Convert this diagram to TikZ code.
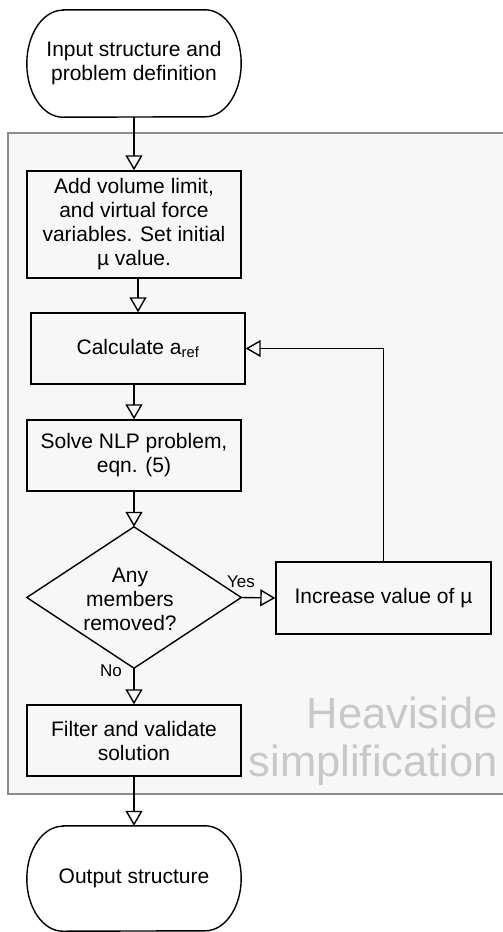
\documentclass[tikz,border=0pt]{standalone}
\usepackage{fontspec}
\setmainfont{Liberation Sans}
\usetikzlibrary{arrows.meta,calc}
\definecolor{regionfill}{HTML}{F7F7F7}
\definecolor{regionline}{HTML}{8C8C8C}
\definecolor{regiontext}{HTML}{C8C8C8}
\tikzset{
  txt/.style={font=\fontsize{21}{24}\selectfont, align=center, inner sep=0pt},
  procbox/.style={txt, draw, line width=1.4pt, minimum width=214pt, minimum height=71pt},
  ghost/.style={txt, draw=none, minimum width=214pt},
  flow/.style={line width=1.4pt, -{Triangle[open, width=17pt, length=15pt, line width=1.4pt]}},
  lbl/.style={font=\fontsize{17}{19}\selectfont, inner sep=0pt},
  outline/.style={line width=1.4pt},
}
\begin{document}
\begin{tikzpicture}[x=1pt,y=-1pt]
\useasboundingbox (0,0) rectangle (503,932);
% region
\draw[fill=regionfill, draw=regionline, line width=1.5pt] (8,133) rectangle (515,794);
\node[font=\fontsize{43.5}{48}\selectfont, text=regiontext, align=right, anchor=east, inner sep=0pt] (region) at (498,741) {Heaviside\\simplification};
% nodes
\node[ghost, minimum height=107pt] (in) at (134,63.5) {Input structure and\\problem definition};
\node[procbox, minimum height=107pt] (b1) at (134,224.5) {Add volume limit,\\and virtual force\\variables. Set initial\\\textmu\ value.};
\node[procbox] (b2) at (138,348.5) {Calculate a\textsubscript{ref}};
\node[procbox] (b3) at (134,455.5) {Solve NLP problem,\\eqn. (5)};
\node[ghost, minimum height=141pt] (dia) at (134,597.5) {};
\node[txt] (diatext) at (130,599) {Any\\members\\removed?};
\node[procbox, minimum width=215pt, minimum height=72pt] (inc) at (383.5,598) {Increase value of \textmu};
\node[procbox] (b4) at (134,740.5) {Filter and validate\\solution};
\node[ghost, minimum height=105pt] (out) at (134,878.5) {Output structure};
% terminator outlines
\foreach \n/\r in {in/53.5,out/52.5}{
  \draw[outline] ([xshift=36pt]\n.north west) -- ([xshift=-36pt]\n.north east)
    arc[start angle=90, end angle=-90, x radius=36pt, y radius=\r pt]
    -- ([xshift=36pt]\n.south west)
    arc[start angle=270, end angle=90, x radius=36pt, y radius=\r pt]
    -- cycle;
}
% diamond outline
\draw[outline] (dia.north) -- (dia.east) -- (dia.south) -- (dia.west) -- cycle;
% connectors
\draw[flow] (in.south) -- (b1.north);
\draw[flow] (b2.north |- b1.south) -- (b2.north);
\draw[flow] (b3.north |- b2.south) -- (b3.north);
\draw[flow] (b3.south) -- (dia.north);
\draw[flow] (dia.east) -- (inc.west);
\draw[flow] (inc.north) |- (b2.east);
\draw[flow] (dia.south) -- (b4.north);
\draw[flow] (b4.south) -- (out.north);
% labels
\node[lbl] (yes) at (241,582) {Yes};
\node[lbl] (no) at (111,671) {No};
\end{tikzpicture}
\end{document}
